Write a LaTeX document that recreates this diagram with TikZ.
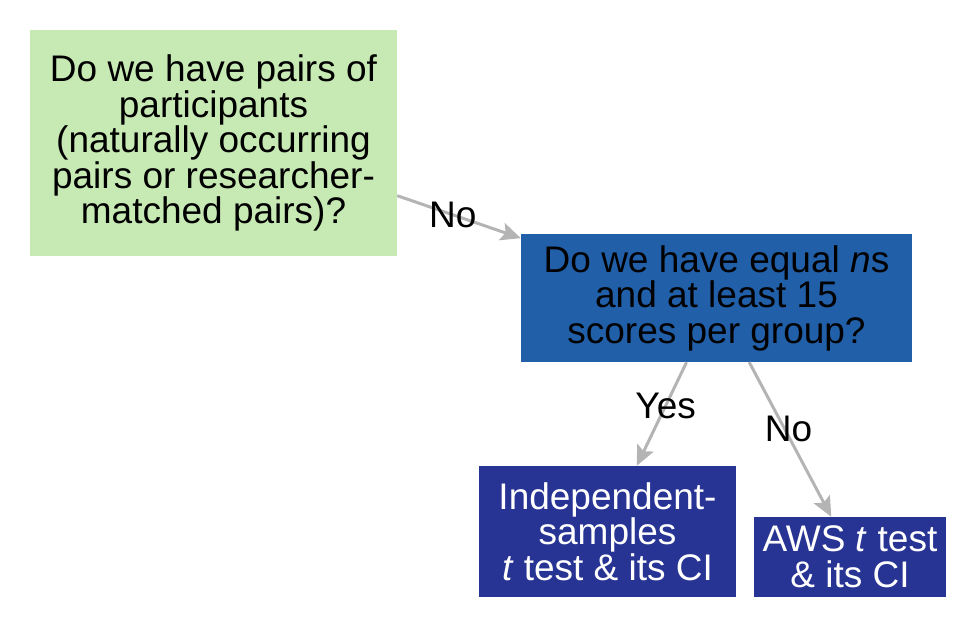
\documentclass[tikz,border=0pt]{standalone}
\usepackage{fontspec}
\setmainfont{Liberation Sans}
\usepackage{xcolor}
\usepackage{tikz}
\usetikzlibrary{arrows.meta}
\usetikzlibrary{positioning}
\definecolor{verdeclaro}{RGB}{199,233,180}
\definecolor{azulmedio}{RGB}{33,95,168}
\definecolor{azulescuro}{RGB}{40,52,148}
\definecolor{cinzaseta}{RGB}{180,180,180}
\newcommand{\grande}{\fontsize{37}{35.5}\selectfont}
\tikzset{
  caixa/.style={fill=verdeclaro, align=center, inner sep=0pt, text=black, font=\grande},
  pergunta/.style={fill=azulmedio, align=center, inner sep=0pt, text=black, font=\grande},
  resultado/.style={fill=azulescuro, align=center, inner sep=0pt, text=white, font=\grande},
  seta/.style={-{Stealth[length=20pt, width=18pt, inset=4pt]}, line width=3pt, draw=cinzaseta, cinzaseta},
}

\begin{document}
\begin{tikzpicture}[
    x=1pt, y=-1pt,
    rotulo/.style={text=black, font=\grande, inner sep=0pt},
  ]
  \useasboundingbox (0,0) rectangle (976,627);
  \node[caixa, minimum width=367pt, minimum height=226pt] (pares) at (213.5,143)
    {Do we have pairs of\\participants\\(naturally occurring\\pairs or researcher-\\matched pairs)?};
  \node[pergunta, minimum width=391pt, minimum height=128pt] (iguais) at (716.5,298)
    {Do we have equal \textit{n}s\\and at least 15\\scores per group?};
  \node[resultado, minimum width=257pt, minimum height=131pt] (indep) at (607.5,531.5)
    {Independent-\\samples\\\textit{t} test \& its CI};
  \node[resultado, minimum width=192pt, minimum height=80pt] (aws) at (850,557)
    {AWS \textit{t} test\\\& its CI};

  \draw[seta] (pares.-16.7) -- node[rotulo, pos=0.45]{No} (iguais.163);
  \draw[seta] (iguais.-115.5) -- node[rotulo, pos=0.42]{Yes} (indep.66.5);
  \draw[seta] (iguais.-63.1) -- node[rotulo, pos=0.43, xshift=4pt]{No} (aws.115.4);
\end{tikzpicture}
\end{document}
